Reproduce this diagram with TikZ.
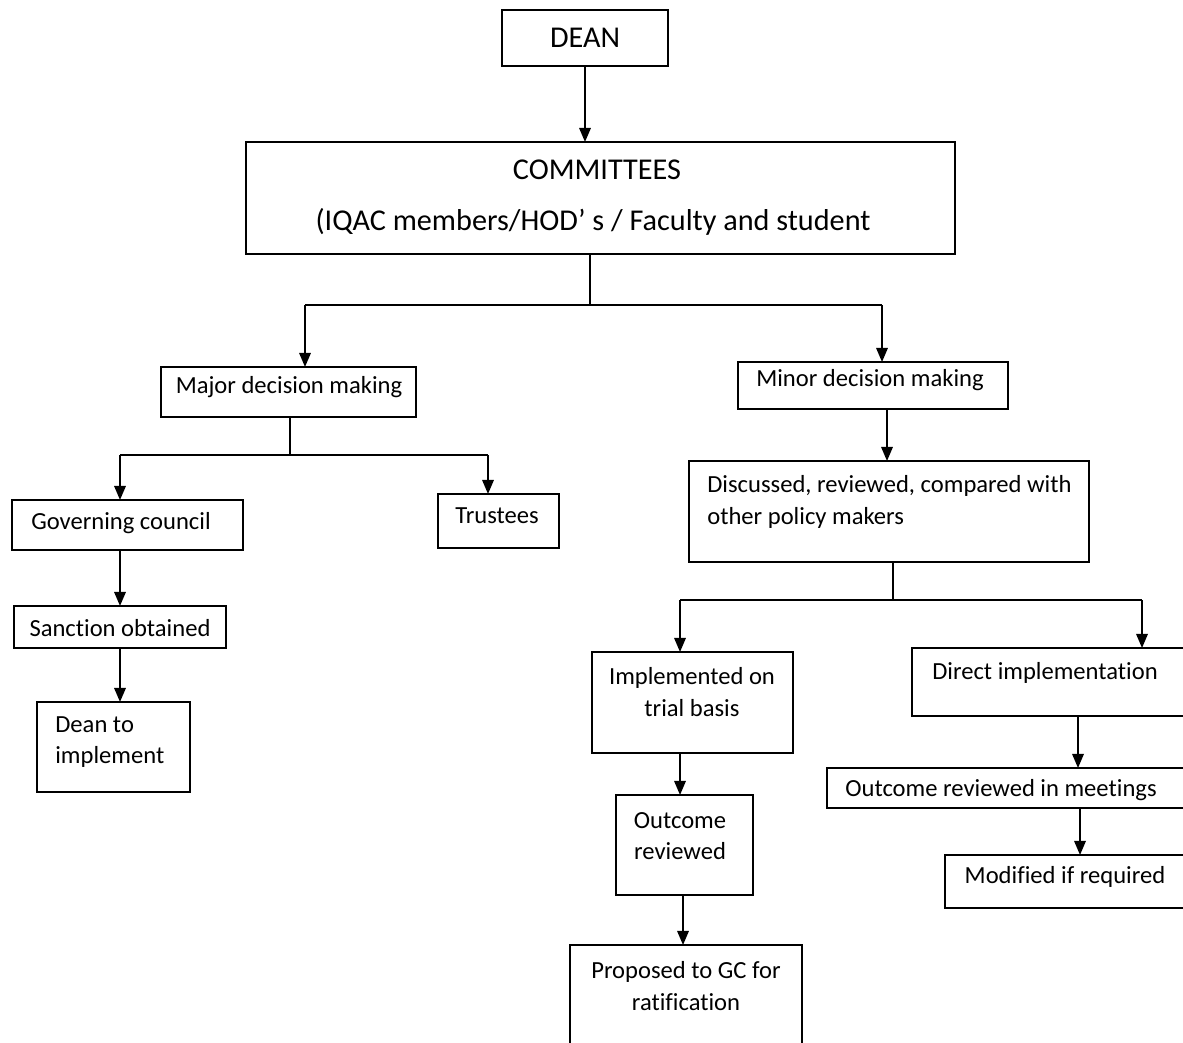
\documentclass[tikz,border=0pt]{standalone}
\usepackage{fontspec}
\setmainfont{Carlito}[Ligatures={NoCommon}]
\usetikzlibrary{arrows.meta}
\newcommand\pbox[5]{\node[box, minimum width={(#4-#2)*0.02cm}, minimum height={(#5-#3)*0.02cm}] (#1) at ({(#2+#4)/2},{(#3+#5)/2}) {};}
\tikzset{
  box/.style={draw, line width=1.1pt, inner sep=0pt, outer sep=0pt},
  txt/.style={inner sep=0pt, font=\fontsize{14}{18}\selectfont, align=center},
  bigtxt/.style={inner sep=0pt, font=\fontsize{17.2}{20}\selectfont},
  conn/.style={line width=1.1pt},
  arr/.style={line width=1.1pt, -{Triangle[length=8pt,width=6.5pt]}}
}
\begin{document}
\begin{tikzpicture}[x=0.02cm,y=-0.02cm]
\useasboundingbox (0,0) rectangle (1183,1042);
\clip (0,0) rectangle (1183,1042);
\fill[white] (0,0) rectangle (1183,1042);
% boxes
\pbox{dean}{502}{10}{668}{66}
\pbox{comm}{246}{142}{955}{254}
\pbox{major}{161}{367}{416}{417}
\pbox{minor}{738}{362}{1008}{409}
\pbox{gov}{12}{500}{243}{550}
\pbox{trust}{438}{494}{559}{548}
\pbox{sanc}{14}{606}{226}{648}
\pbox{deanimp}{37}{702}{190}{792}
\pbox{disc}{689}{461}{1089}{562}
\pbox{trial}{592}{652}{793}{753}
\pbox{direct}{912}{648}{1200}{716}
\pbox{outrev}{616}{795}{753}{895}
\pbox{prop}{570}{945}{802}{1080}
\pbox{outmeet}{827}{768}{1200}{808}
\pbox{modif}{945}{855}{1200}{908}
% texts
\node[bigtxt] (tdean) at (585,38) {DEAN};
\node[bigtxt] (tcomm1) at (597,170) {COMMITTEES};
\node[bigtxt] (tcomm2) at (593,222) {(IQAC members/HOD’ s / Faculty and student};
\node[txt] (tmajor) at (289,387) {Major decision making};
\node[txt] (tminor) at (870,380) {Minor decision making};
\node[txt] (tgov) at (121,523) {Governing council};
\node[txt] (ttrust) at (497,516) {Trustees};
\node[txt] (tsanc) at (120,628) {Sanction obtained};
\node[txt, anchor=west, align=left] (tdeanimp) at (55,742) {Dean to\\implement};
\node[txt, anchor=west, align=left] (tdisc) at (707,502) {Discussed, reviewed, compared with\\other policy makers};
\node[txt] (ttrial) at (692,692) {Implemented on\\trial basis};
\node[txt] (tdirect) at (1045,673) {Direct implementation};
\node[txt] (toutrev) at (680,836) {Outcome\\reviewed};
\node[txt] (tprop) at (686,986) {Proposed to GC for\\ratification};
\node[txt, anchor=west] (toutmeet) at (845,790) {Outcome reviewed in meetings};
\node[txt] (tmodif) at (1065,877) {Modified if required};
% connectors
\draw[arr] (dean.south -| 585,0) -- (comm.north -| 585,0);
\coordinate (j1) at (590,305);
\coordinate (j1l) at (305,305);
\coordinate (j1r) at (882,305);
\draw[conn] (comm.south -| j1) -- (j1);
\draw[conn] (j1l) -- (j1r);
\draw[arr] (j1l) -- (j1l |- major.north);
\draw[arr] (j1r) -- (j1r |- minor.north);
\coordinate (j2) at (290,455);
\coordinate (j2l) at (120,455);
\coordinate (j2r) at (488,455);
\draw[conn] (major.south -| j2) -- (j2);
\draw[conn] (j2l) -- (j2r);
\draw[arr] (j2l) -- (j2l |- gov.north);
\draw[arr] (j2r) -- (j2r |- trust.north);
\draw[arr] (gov.south -| 120,0) -- (sanc.north -| 120,0);
\draw[arr] (sanc.south -| 120,0) -- (deanimp.north -| 120,0);
\draw[arr] (minor.south -| 887,0) -- (disc.north -| 887,0);
\coordinate (j3) at (893,600);
\coordinate (j3l) at (680,600);
\coordinate (j3r) at (1142,600);
\draw[conn] (disc.south -| j3) -- (j3);
\draw[conn] (j3l) -- (j3r);
\draw[arr] (j3l) -- (j3l |- trial.north);
\draw[arr] (j3r) -- (j3r |- direct.north);
\draw[arr] (trial.south -| 680,0) -- (outrev.north -| 680,0);
\draw[arr] (outrev.south -| 683,0) -- (prop.north -| 683,0);
\draw[arr] (direct.south -| 1078,0) -- (outmeet.north -| 1078,0);
\draw[arr] (outmeet.south -| 1080,0) -- (modif.north -| 1080,0);
\end{tikzpicture}
\end{document}
